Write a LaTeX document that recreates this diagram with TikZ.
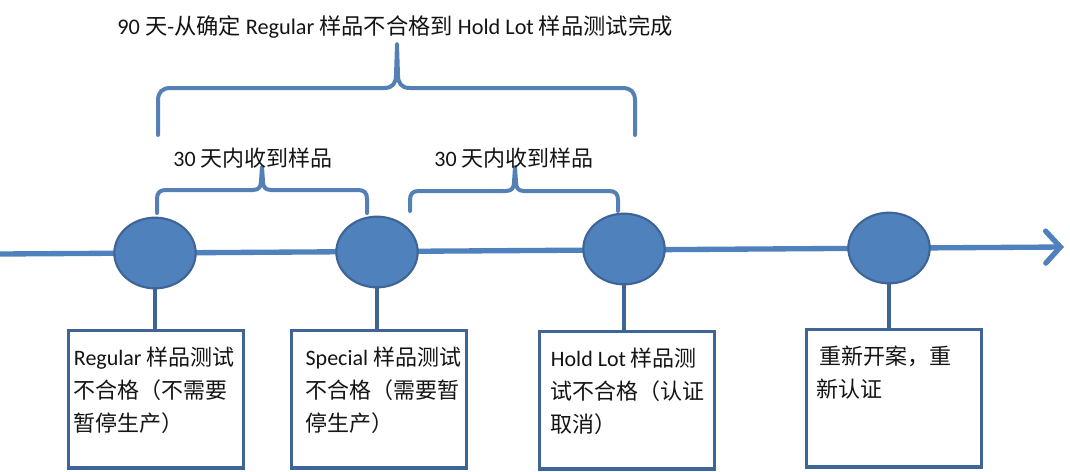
\documentclass[tikz,border=0pt]{standalone}
\usepackage{fontspec}
\setmainfont{Noto Sans CJK SC}
\newfontfamily\lat{Carlito}
\usetikzlibrary{shapes.geometric,arrows.meta}
\definecolor{tlblue}{HTML}{4F81BD}
\definecolor{tldark}{HTML}{3F6496}
\definecolor{brblue}{HTML}{5580B5}
% #1 x-left, #2 x-peak, #3 x-right, #4 y-tip, #5 y-horizontal, #6 y-peak, #7 radius
\newcommand\tlbrace[7]{%
  \draw[bracestyle] (#1,#4) -- (#1,#5+#7)
    .. controls (#1,#5+#7*0.3) and (#1+#7*0.3,#5) .. (#1+#7,#5)
    -- (#2-#7,#5)
    .. controls (#2-#7*0.3,#5) and (#2-1,#5-#7*0.4) .. (#2-1,#5-#7)
    -- (#2,#6) -- (#2+1,#5-#7)
    .. controls (#2+1,#5-#7*0.4) and (#2+#7*0.3,#5) .. (#2+#7,#5)
    -- (#3-#7,#5)
    .. controls (#3-#7*0.3,#5) and (#3,#5+#7*0.3) .. (#3,#5+#7)
    -- (#3,#4);}
\newcommand\boxtext[2]{\parbox[c][103pt][t]{131pt}{\raggedright\leftskip=#1\relax
  \rule{0pt}{26pt}#2}}
\begin{document}
\begin{tikzpicture}[x=0.75pt,y=-0.75pt,
  every node/.style={font=\fontsize{16.5pt}{24.75pt}\selectfont, text=black!92},
  bigtext/.style={font=\fontsize{16.7pt}{24.75pt}\selectfont},
  bracestyle/.style={draw=brblue, line width=3pt, line join=round, line cap=round},
  dot/.style={ellipse, fill=tlblue, draw=tldark, line width=1.6pt,
    minimum width=61pt, minimum height=53pt, inner sep=0pt},
  infobox/.style={draw=tldark, line width=2.4pt, anchor=north west, inner sep=0pt},
  link/.style={draw=tldark, line width=3pt},
  timeline/.style={draw=tlblue, line width=4pt,
    -{Straight Barb[length=11pt,width=24pt,line cap=round]}}]
\useasboundingbox (0,0) rectangle (1070,471);

% timeline
\coordinate (ts) at (0,254);
\coordinate (te) at (1064,247);
\draw[timeline] (ts) -- (te);

% milestones
\node[dot] (c1) at (155,253) {};
\node[dot] (c2) at (377,252) {};
\node[dot] (c3) at (624,249) {};
\node[dot] (c4) at (889,248) {};

% boxes
\node[infobox] (b1) at (67,329) {\boxtext{4pt}{{\lat Regular} 样品测试\\不合格（不需要\\暂停生产）}};
\node[infobox] (b2) at (290,329) {\boxtext{10.5pt}{{\lat Special} 样品测试\\不合格（需要暂\\停生产）}};
\node[infobox] (b3) at (538,330) {\boxtext{8.5pt}{{\lat Hold Lot} 样品测\\试不合格（认证\\取消）}};
\node[infobox] (b4) at (805,328) {\boxtext{7.5pt}{\hspace{2pt}重新开案，重\\新认证}};

% connectors
\draw[link] (c1.south) -- (c1.south |- b1.north);
\draw[link] (c2.south) -- (c2.south |- b2.north);
\draw[link] (c3.south) -- (c3.south |- b3.north);
\draw[link] (c4.south) -- (c4.south |- b4.north);

% braces
\tlbrace{158}{397}{635}{135}{88}{44}{13}
\tlbrace{157}{262}{367}{213}{190}{167}{9}
\tlbrace{410}{515}{618}{211}{191}{167}{9}

% labels
\node[bigtext] (title) at (395,27) {{\lat 90 }天{\lat -}从确定 {\lat Regular} 样品不合格到 {\lat Hold Lot} 样品测试完成};
\node (l1) at (253,158) {{\lat 30 }天内收到样品};
\node (l2) at (514,158) {{\lat 30 }天内收到样品};
\end{tikzpicture}
\end{document}
